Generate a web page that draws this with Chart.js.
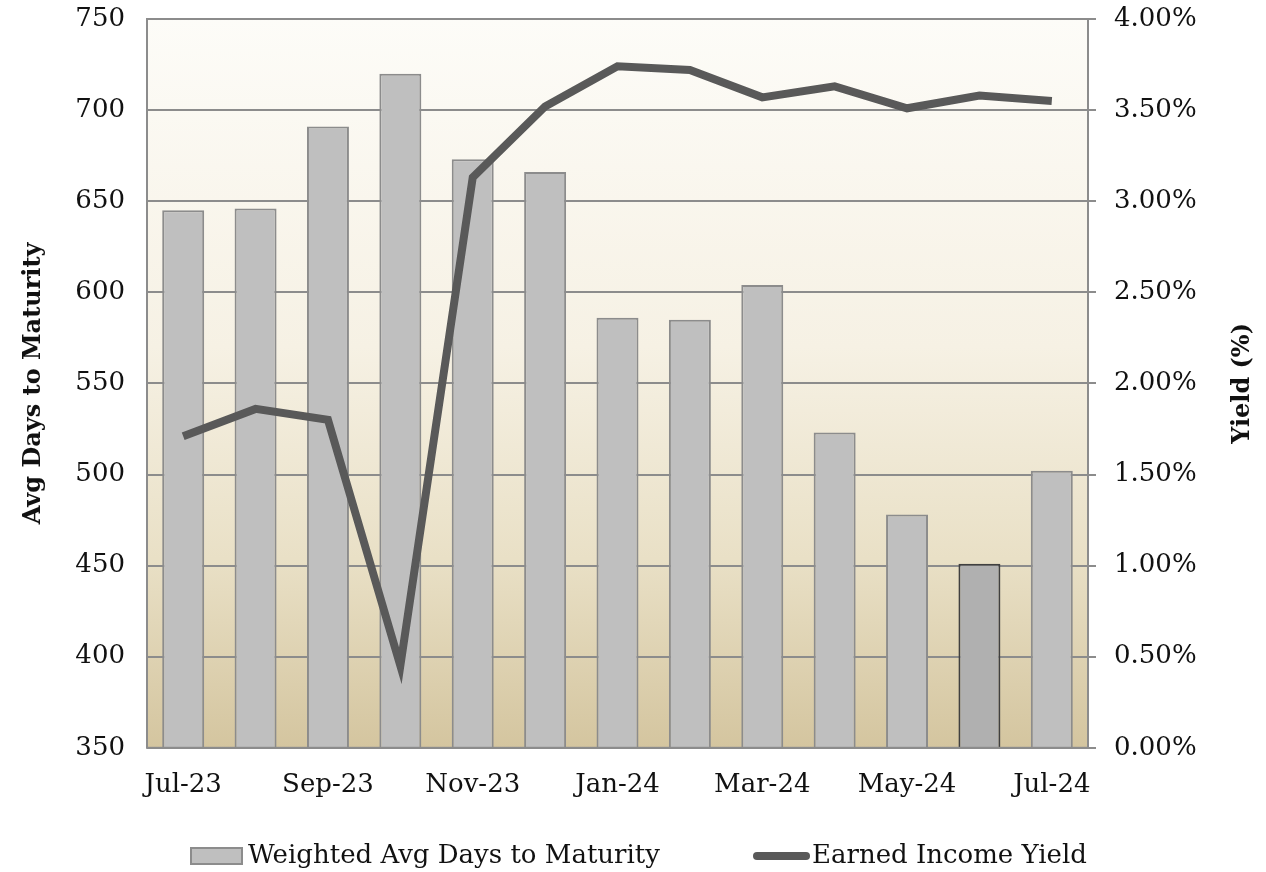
<!DOCTYPE html>
<html>
<head>
<meta charset="utf-8">
<script src="https://cdn.jsdelivr.net/npm/chart.js@4"></script>
<style>
  html, body { margin: 0; padding: 0; background: #fff; }
  #wrap { width: 1266px; height: 872px; }
</style>
</head>
<body>
<div id="wrap"><canvas id="myChart" width="1266" height="872"></canvas></div>
<script>
const months = ['Jul-23', 'Aug-23', 'Sep-23', 'Oct-23', 'Nov-23', 'Dec-23', 'Jan-24',
                'Feb-24', 'Mar-24', 'Apr-24', 'May-24', 'Jun-24', 'Jul-24'];
const avgDays = [645, 646, 691, 720, 673, 666, 586, 585, 604, 523, 478, 451, 502];
const yieldPct = [1.71, 1.86, 1.80, 0.45, 3.13, 3.52, 3.74, 3.72, 3.57, 3.63, 3.51, 3.58, 3.55];
const highlightMonth = 'Jun-24';
const leftTitle = 'Avg Days to Maturity';
const rightTitle = 'Yield (%)';

const FONT = "'DejaVu Serif', serif";
const GRID = '#8c8c8c';
const LINE = '#595959';

// bar colours, the latest-but-one month is picked out darker
var barFill = months.map(m => m === highlightMonth ? '#b0b0b0' : '#bfbfbf');
var barEdge = months.map(m => m === highlightMonth ? '#404040' : '#8c8c8c');

const plotExtras = {
    id: 'plotExtras',
    beforeDraw(chart) {
        const { ctx, chartArea: a } = chart;
        const g = ctx.createLinearGradient(0, a.top, 0, a.bottom);
        g.addColorStop(0, '#fdfcf8');
        g.addColorStop(0.45, '#f6f1e4');
        g.addColorStop(0.74, '#e9e0c6');
        g.addColorStop(1, '#d4c59f');
        ctx.save();
        ctx.fillStyle = g;
        ctx.fillRect(a.left, a.top, a.right - a.left, a.bottom - a.top);
        ctx.restore();
    },
    afterDatasetsDraw(chart) {
        // frame round the plot
        const { ctx, chartArea: a } = chart;
        ctx.save();
        ctx.strokeStyle = GRID;
        ctx.lineWidth = 2;
        ctx.strokeRect(a.left, a.top, a.right - a.left, a.bottom - a.top);
        ctx.restore();
    },
    afterDraw(chart) {
        const { ctx, chartArea: a } = chart;
        const midY = (a.top + a.bottom) / 2;
        ctx.save();
        // both axis titles read bottom to top
        ctx.font = "bold 24px " + FONT;
        ctx.fillStyle = '#111';
        ctx.textAlign = 'center';
        ctx.textBaseline = 'middle';
        [[34, leftTitle], [1243, rightTitle]].forEach(([x, t]) => {
            ctx.save();
            ctx.translate(x, midY);
            ctx.rotate(-Math.PI / 2);
            ctx.fillText(t, 0, 0);
            ctx.restore();
        });

        // legend under the plot
        const bars = chart.data.datasets[1], line = chart.data.datasets[0];
        const ly = 856;
        ctx.font = "26px " + FONT;
        ctx.textAlign = 'left';
        ctx.fillStyle = '#bfbfbf';
        ctx.strokeStyle = '#8c8c8c';
        ctx.lineWidth = 2;
        ctx.fillRect(191, ly - 8, 51, 16);
        ctx.strokeRect(191, ly - 8, 51, 16);
        ctx.fillStyle = '#111';
        ctx.fillText(bars.label, 248, ly);

        ctx.strokeStyle = LINE;
        ctx.lineWidth = 8;
        ctx.lineCap = 'round';
        ctx.beginPath();
        ctx.moveTo(757, ly);
        ctx.lineTo(806, ly);
        ctx.stroke();
        ctx.fillText(line.label, 812, ly);
        ctx.restore();
    }
};

const noEdgePad = s => { s.paddingTop = 0; s.paddingBottom = 0; };

const ctx = document.getElementById('myChart');
const myChart = new Chart(ctx, {
    data: {
        labels: months,
        datasets: [{
            type: 'line',
            label: 'Earned Income Yield',
            data: yieldPct,
            yAxisID: 'y1',
            borderColor: LINE,
            backgroundColor: LINE,
            borderWidth: 8,
            pointRadius: 0,
            tension: 0,
            borderJoinStyle: 'miter',
            order: 0
        }, {
            type: 'bar',
            label: 'Weighted Avg Days to Maturity',
            data: avgDays,
            yAxisID: 'y',
            backgroundColor: barFill,
            borderColor: barEdge,
            borderWidth: 2,
            categoryPercentage: 1,
            barPercentage: 0.58,
            order: 1
        }]
    },
    options: {
        responsive: false,
        animation: false,
        layout: { padding: { top: 19, left: 0, right: 0, bottom: 49 } },
        plugins: {
            tooltip: { enabled: false },
            legend: { display: false }
        },
        scales: {
            x: {
                grid: { display: false, drawTicks: false },
                border: { display: false },
                ticks: {
                    font: { family: FONT, size: 26 },
                    color: '#111',
                    autoSkip: false,
                    maxRotation: 0,
                    padding: 22,
                    callback: function (v, i) { return i % 2 === 0 ? this.getLabelForValue(v) : ''; }
                }
            },
            y: {
                position: 'left',
                min: 350,
                max: 750,
                ticks: {
                    stepSize: 50,
                    font: { family: FONT, size: 26 },
                    color: '#111',
                    padding: 22
                },
                grid: { color: GRID, lineWidth: 2, drawTicks: false },
                border: { display: false },
                afterFit: s => { s.width = 147; noEdgePad(s); }
            },
            y1: {
                position: 'right',
                min: 0,
                max: 4,
                ticks: {
                    stepSize: 0.5,
                    font: { family: FONT, size: 26 },
                    color: '#111',
                    padding: 18,
                    callback: v => v.toFixed(2) + '%'
                },
                grid: { drawOnChartArea: false, color: GRID, lineWidth: 2, tickLength: 8 },
                border: { display: false },
                afterFit: s => { s.width = 178; noEdgePad(s); }
            }
        }
    },
    plugins: [plotExtras]
});
</script>
</body>
</html>
